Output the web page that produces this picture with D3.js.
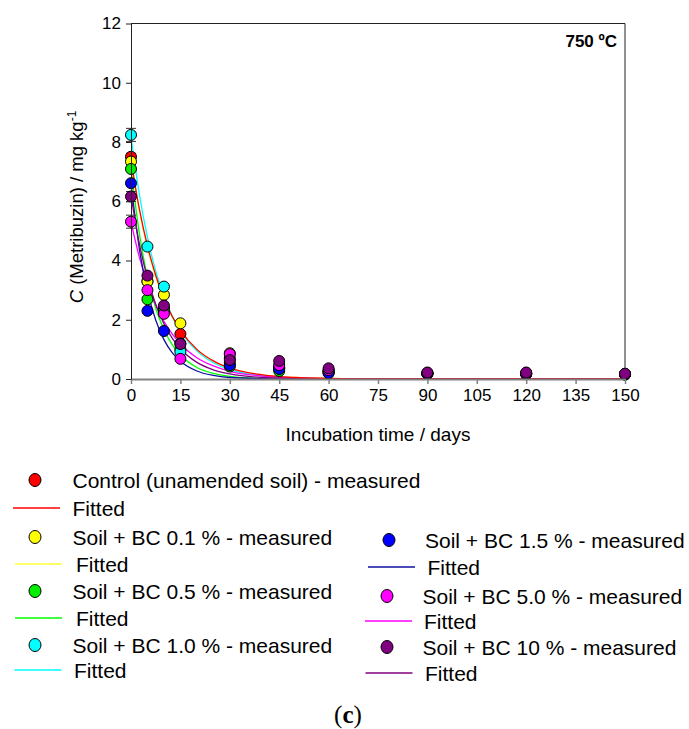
<!DOCTYPE html>
<meta charset="utf-8">
<style>
body { margin: 0; background: #fff; }
text { font-family: "Liberation Sans", Arial, sans-serif; fill: #000; }
.tick text { font-size: 17px; }
</style>
<body>
<script src="https://d3js.org/d3.v7.min.js"></script>
<script>

// sampling days of the measured points
var times = [0, 5, 10, 15, 30, 45, 60, 90, 120, 150];

// measured concentrations (mg/kg)
var control = [7.50, 3.30, 2.40, 1.52, 0.55, 0.40, 0.25, 0.18, 0.18, 0.15];
var bc01    = [7.34, 3.29, 2.84, 1.88, 0.87, 0.38, 0.27, 0.20, 0.20, 0.17];
var bc05    = [7.09, 2.69, 2.30, 1.00, 0.42, 0.27, 0.20, 0.18, 0.17, 0.15];
var bc10    = [8.24, 4.47, 3.12, 0.92, 0.70, 0.35, 0.25, 0.18, 0.18, 0.16];
var bc15    = [6.61, 2.30, 1.62, 1.20, 0.47, 0.34, 0.20, 0.17, 0.16, 0.15];
var bc50    = [5.31, 3.00, 2.20, 0.68, 0.84, 0.47, 0.30, 0.20, 0.19, 0.17];
var bc100   = [6.16, 3.49, 2.48, 1.18, 0.64, 0.61, 0.36, 0.22, 0.22, 0.18];

// error bars (only visible at day 0)
var errControl = [0.12, 0, 0, 0, 0, 0, 0, 0, 0, 0];
var errBc01    = [0.05, 0, 0, 0, 0, 0, 0, 0, 0, 0];
var errBc05    = [0.05, 0, 0, 0, 0, 0, 0, 0, 0, 0];
var errBc10    = [0.22, 0, 0, 0, 0, 0, 0, 0, 0, 0];
var errBc15    = [0.08, 0, 0, 0, 0, 0, 0, 0, 0, 0];
var errBc50    = [0.22, 0, 0, 0, 0, 0, 0, 0, 0, 0];
var errBc100   = [0.17, 0, 0, 0, 0, 0, 0, 0, 0, 0];

// fitted curves
var fitTimes   = [0, 2.5, 5, 7.5, 10, 12.5, 15, 20, 25, 30, 40, 50, 60, 75, 90, 120, 150];
var fitControl = [7.40, 5.76, 4.49, 3.50, 2.72, 2.12, 1.65, 1.00, 0.61, 0.37, 0.14, 0.05, 0.02, 0, 0, 0, 0];
var fitBc01    = [7.30, 5.69, 4.43, 3.45, 2.69, 2.09, 1.63, 0.99, 0.60, 0.36, 0.13, 0.05, 0.02, 0, 0, 0, 0];
var fitBc05    = [7.10, 4.94, 3.44, 2.39, 1.67, 1.16, 0.81, 0.39, 0.19, 0.09, 0.02, 0.01, 0, 0, 0, 0, 0];
var fitBc10    = [8.20, 6.26, 4.78, 3.65, 2.78, 2.13, 1.62, 0.95, 0.55, 0.32, 0.11, 0.04, 0.01, 0, 0, 0, 0];
var fitBc15    = [6.60, 4.42, 2.97, 1.99, 1.33, 0.89, 0.60, 0.27, 0.12, 0.05, 0.01, 0, 0, 0, 0, 0, 0];
var fitBc50    = [5.30, 4.13, 3.21, 2.50, 1.95, 1.52, 1.18, 0.72, 0.44, 0.26, 0.10, 0.04, 0.01, 0, 0, 0, 0];
var fitBc100   = [6.20, 4.59, 3.40, 2.52, 1.87, 1.38, 1.02, 0.56, 0.31, 0.17, 0.05, 0.02, 0, 0, 0, 0, 0];

var xTicks = [0, 15, 30, 45, 60, 75, 90, 105, 120, 135, 150];
var yTicks = [0, 2, 4, 6, 8, 10, 12];

var series = [
  {name: "Control (unamended soil) - measured", pts: control, err: errControl, fit: fitControl, fill: "#ff0000", line: "#ff0000"},
  {name: "Soil + BC 0.1 % - measured", pts: bc01, err: errBc01, fit: fitBc01, fill: "#ffff00", line: "#ffff33"},
  {name: "Soil + BC 0.5 % - measured", pts: bc05, err: errBc05, fit: fitBc05, fill: "#00ee00", line: "#00ff00"},
  {name: "Soil + BC 1.0 % - measured", pts: bc10, err: errBc10, fit: fitBc10, fill: "#00ffff", line: "#00ffff"},
  {name: "Soil + BC 1.5 % - measured", pts: bc15, err: errBc15, fit: fitBc15, fill: "#0000ff", line: "#1010a0"},
  {name: "Soil + BC 5.0 % - measured", pts: bc50, err: errBc50, fit: fitBc50, fill: "#ff00ff", line: "#ff00ff"},
  {name: "Soil + BC 10 % - measured", pts: bc100, err: errBc100, fit: fitBc100, fill: "#800080", line: "#800080"}
];

var svg = d3.select("body").append("svg")
    .attr("width", 689)
    .attr("height", 729);

var x = d3.scaleLinear().domain([0, 150]).range([131, 625]);
var y = d3.scaleLinear().domain([0, 12]).range([379, 23.5]);

// frame (top and right)
svg.append("path")
    .attr("d", "M" + x(0) + "," + y(12) + "H" + x(150) + "V" + y(0))
    .attr("fill", "none")
    .attr("stroke", "#222")
    .attr("stroke-width", 1);

// fitted curves, red last so it sits on top
var line = d3.line()
    .x(function(d) { return x(d[0]); })
    .y(function(d) { return y(d[1]); })
    .curve(d3.curveMonotoneX);

var curveOrder = [1, 3, 2, 5, 4, 6, 0];
curveOrder.forEach(function(i) {
  var s = series[i];
  svg.append("path")
      .datum(fitTimes.map(function(t, j) { return [t, s.fit[j]]; }))
      .attr("fill", "none")
      .attr("stroke", s.line)
      .attr("stroke-width", 1.3)
      .attr("d", line);
});

// error bars
series.forEach(function(s) {
  times.forEach(function(t, j) {
    if (!s.err[j]) return;
    var g = svg.append("g").attr("stroke", "#333").attr("stroke-width", 1);
    g.append("line").attr("x1", x(t)).attr("x2", x(t))
        .attr("y1", y(s.pts[j] - s.err[j])).attr("y2", y(s.pts[j] + s.err[j]));
    [s.pts[j] - s.err[j], s.pts[j] + s.err[j]].forEach(function(v) {
      g.append("line").attr("x1", x(t) - 5).attr("x2", x(t) + 5)
          .attr("y1", y(v)).attr("y2", y(v));
    });
  });
});

// measured points
series.forEach(function(s) {
  svg.append("g").selectAll("circle")
      .data(times.map(function(t, j) { return [t, s.pts[j]]; }))
    .enter().append("circle")
      .attr("cx", function(d) { return x(d[0]); })
      .attr("cy", function(d) { return y(d[1]); })
      .attr("r", 5.5)
      .attr("fill", s.fill)
      .attr("stroke", "#000")
      .attr("stroke-width", 1);
});

// x axis
var xAxis = svg.append("g")
    .attr("transform", "translate(0," + y(0) + ")")
    .call(d3.axisBottom(x).tickValues(xTicks).tickSize(5).tickPadding(5).tickSizeOuter(0));
xAxis.select(".domain").attr("stroke", "#808080").attr("stroke-width", 2);
xAxis.selectAll(".tick line").attr("stroke", "#808080").attr("stroke-width", 1.5);

// y axis
var yAxis = svg.append("g")
    .attr("transform", "translate(" + x(0) + ",0)")
    .call(d3.axisLeft(y).tickValues(yTicks).tickSize(5).tickPadding(5).tickSizeOuter(0));
yAxis.select(".domain").attr("stroke", "#222");
yAxis.selectAll(".tick line").attr("stroke", "#222");

// axis titles
svg.append("text")
    .attr("x", 378)
    .attr("y", 441)
    .attr("text-anchor", "middle")
    .style("font-size", "19px")
    .text("Incubation time / days");

var yl = svg.append("text")
    .attr("transform", "translate(83,207) rotate(-90)")
    .attr("text-anchor", "middle")
    .style("font-size", "18.5px");
yl.append("tspan").style("font-style", "italic").text("C");
yl.append("tspan").text(" (Metribuzin) / mg kg");
yl.append("tspan").attr("dy", -7).style("font-size", "12px").text("-1");

// temperature label
svg.append("text")
    .attr("x", 617)
    .attr("y", 47)
    .attr("text-anchor", "end")
    .style("font-size", "17px")
    .style("font-weight", "bold")
    .text("750 ºC");

// legend
var legendPos = [
  {cx: 35, tx: 72.5, cy: 480, lx: 13, fx: 72.5, ly: 508},
  {cx: 35, tx: 72.5, cy: 537, lx: 15, fx: 76, ly: 564},
  {cx: 35, tx: 72.5, cy: 591, lx: 15, fx: 76, ly: 618},
  {cx: 35, tx: 72.5, cy: 645, lx: 14.5, fx: 74, ly: 670},
  {cx: 389, tx: 425, cy: 540, lx: 368, fx: 427.5, ly: 567},
  {cx: 387, tx: 422.5, cy: 596, lx: 365, fx: 424, ly: 621},
  {cx: 387, tx: 422.5, cy: 647, lx: 365.5, fx: 425, ly: 673}
];

series.forEach(function(s, i) {
  var p = legendPos[i];
  var g = svg.append("g").attr("class", "legend");
  g.append("ellipse")
      .attr("cx", p.cx).attr("cy", p.cy)
      .attr("rx", 6).attr("ry", 6.5)
      .attr("fill", s.fill).attr("stroke", "#000").attr("stroke-width", 1);
  g.append("text")
      .attr("x", p.tx).attr("y", p.cy + 7.5)
      .style("font-size", "21px")
      .text(s.name);
  g.append("line")
      .attr("x1", p.lx).attr("x2", p.lx + 47)
      .attr("y1", p.ly).attr("y2", p.ly)
      .attr("stroke", s.line).attr("stroke-width", 1.5);
  g.append("text")
      .attr("x", p.fx).attr("y", p.ly + 7.5)
      .style("font-size", "21px")
      .text("Fitted");
});

// panel letter
var cap = svg.append("text")
    .attr("x", 348)
    .attr("y", 723)
    .attr("text-anchor", "middle")
    .style("font-family", "'Liberation Serif', serif")
    .style("font-size", "25px");
cap.append("tspan").text("(");
cap.append("tspan").style("font-weight", "bold").text("c");
cap.append("tspan").text(")");

</script>
</body>
